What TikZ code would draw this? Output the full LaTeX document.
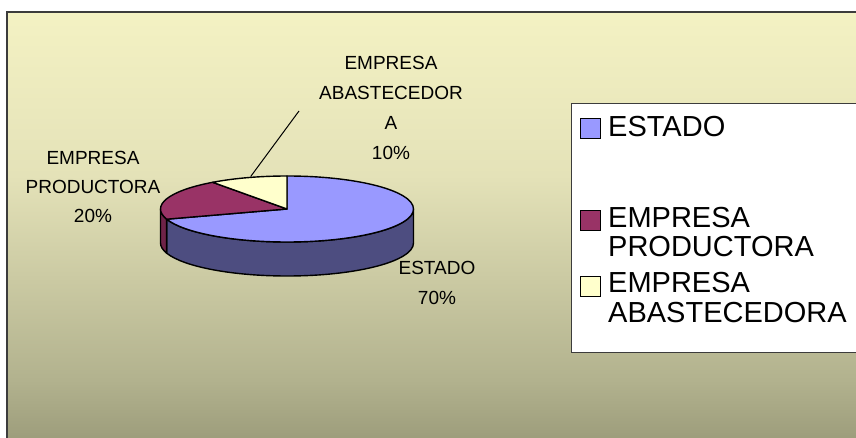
\documentclass[tikz,border=0pt]{standalone}
\usepackage{fontspec}
\setmainfont{Liberation Sans}
\usetikzlibrary{calc}
\definecolor{slblue}{RGB}{153,153,255}
\definecolor{slblueside}{RGB}{77,77,128}
\definecolor{slmaroon}{RGB}{153,51,102}
\definecolor{slmaroonside}{RGB}{110,35,72}
\definecolor{slyellow}{RGB}{255,255,204}
\definecolor{framecol}{RGB}{60,60,60}
\definecolor{bgzero}{RGB}{110,110,86}
\definecolor{bgone}{RGB}{142,142,110}
\definecolor{bgtwo}{RGB}{178,178,142}
\definecolor{bgthree}{RGB}{228,226,184}
\definecolor{bgfour}{RGB}{248,246,198}
\definecolor{bgfive}{RGB}{255,252,204}
\pgfdeclareverticalshading{chartbg}{100bp}{color(0bp)=(bgzero); color(2bp)=(bgzero); color(22bp)=(bgone); color(33.5bp)=(bgtwo); color(56.6bp)=(bgthree); color(80bp)=(bgfour); color(100bp)=(bgfive)}
\begin{document}
\begin{tikzpicture}[x=1pt,y=1pt,
  edge/.style={draw=black,line width=1.4pt,line join=round},
  pielabel/.style={font=\fontsize{19}{30}\selectfont,align=center,anchor=north,inner sep=0pt},
  legtext/.style={font=\fontsize{29}{28.5}\selectfont,align=left,anchor=north west,inner sep=0pt},
  legkey/.style={draw=black,line width=0.9pt,minimum size=20pt,inner sep=0pt}]
\useasboundingbox (0,0) rectangle (856,-438);
\clip (0,0) rectangle (856,-438);
% background frame
\shade[shading=chartbg,draw=framecol,line width=2pt] (6.5,-12.5) rectangle (880,-455);
% pie
\coordinate (ct) at (287,-209);
\coordinate (cb) at (287,-243);
\filldraw[fill=slblueside,edge] ($(ct)+(198:126.5 and 33)$) arc[start angle=198,end angle=360,x radius=126.5,y radius=33]
  -- ($(cb)+(0:126.5 and 33)$) arc[start angle=360,end angle=198,x radius=126.5,y radius=33] -- cycle;
\filldraw[fill=slmaroonside,edge] ($(ct)+(180:126.5 and 33)$) arc[start angle=180,end angle=198,x radius=126.5,y radius=33]
  -- ($(cb)+(198:126.5 and 33)$) arc[start angle=198,end angle=180,x radius=126.5,y radius=33] -- cycle;
\filldraw[fill=slblue,edge] (ct) -- ($(ct)+(90:126.5 and 33)$) arc[start angle=90,end angle=-162,x radius=126.5,y radius=33] -- cycle;
\filldraw[fill=slmaroon,edge] (ct) -- ($(ct)+(198:126.5 and 33)$) arc[start angle=198,end angle=126,x radius=126.5,y radius=33] -- cycle;
\filldraw[fill=slyellow,edge] (ct) -- ($(ct)+(126:126.5 and 33)$) arc[start angle=126,end angle=90,x radius=126.5,y radius=33] -- cycle;
% labels
\node[pielabel] (labAbast) at (391,-56.4) {EMPRESA\\ABASTECEDOR\\A\\10\%};
\node[pielabel,font=\fontsize{19}{29}\selectfont] (labProd) at (93,-151.4) {EMPRESA\\PRODUCTORA\\20\%};
\node[pielabel] (labEstado) at (437,-261.4) {ESTADO\\70\%};
\coordinate (leadStart) at (299,-111);
\coordinate (leadEnd) at (250.7,-176.5);
\draw[black,line width=1pt] (leadStart) -- (leadEnd);
% legend
\node[draw=framecol,line width=1pt,fill=white,anchor=north west,minimum width=320pt,minimum height=249pt,inner sep=0pt] (legend) at (570.7,-102.7) {};
\node[legkey,fill=slblue] (keyEstado) at (590,-128.5) {};
\node[legkey,fill=slmaroon] (keyProd) at (590,-220.3) {};
\node[legkey,fill=slyellow] (keyAbast) at (590,-286.3) {};
\node[legtext] (txtEstado) at (608,-115.9) {ESTADO};
\node[legtext] (txtProd) at (608,-207.5) {EMPRESA\\PRODUCTORA};
\node[legtext,font=\fontsize{29}{30}\selectfont] (txtAbast) at (608,-272.5) {EMPRESA\\ABASTECEDORA};
\end{tikzpicture}
\end{document}
